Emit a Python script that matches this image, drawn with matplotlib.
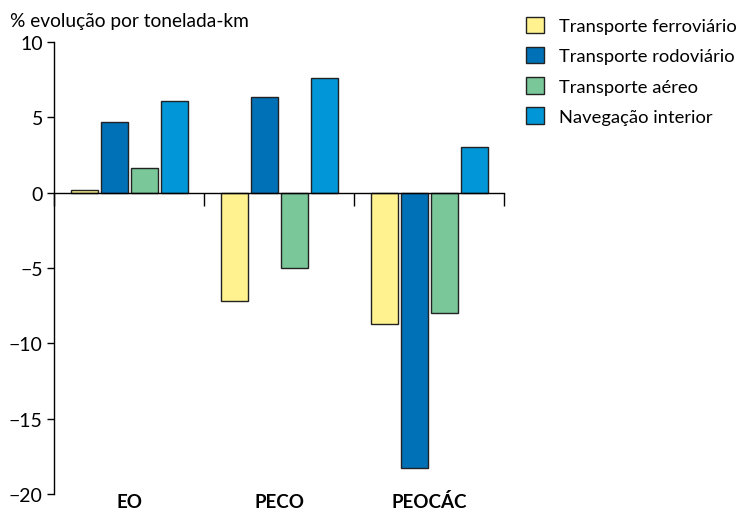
import numpy as np
from matplotlib import pyplot as plt
from matplotlib.patches import Patch
from matplotlib.transforms import blended_transform_factory

plt.rcParams['font.family'] = ['Lato', 'DejaVu Sans']

regioes = ["EO", "PECO", "PEOCÁC"]
modos = ["Transporte ferroviário", "Transporte rodoviário",
         "Transporte aéreo", "Navegação interior"]
ferroviario = [0.15, -7.2, -8.7]
rodoviario = [4.7, 6.35, -18.3]
aereo = [1.65, -5.0, -8.0]
navegacao = [6.1, 7.6, 3.0]
cores = ["#FFF28F", "#0071B6", "#7AC79A", "#0096D7"]

series = [ferroviario, rodoviario, aereo, navegacao]

fig = plt.figure(figsize=(7.43, 5.10), dpi=100)
ax = fig.add_axes([54 / 743, 1 - 495 / 510, 450 / 743, 452 / 510])

x = np.arange(len(regioes))
w = 0.18
for i, (vals, cor) in enumerate(zip(series, cores)):
    ax.bar(x + (i - 1.5) * 0.2, vals, w, color=cor, edgecolor="#222222", linewidth=1.0)

ax.set_xlim(-0.5, 2.5)
ax.set_ylim(-20, 10)
ax.set_yticks([-20, -15, -10, -5, 0, 5, 10])
ax.tick_params(axis='y', direction='out', length=5, width=1, labelsize=14, pad=3)
ax.spines['top'].set_visible(False)
ax.spines['right'].set_visible(False)
ax.spines['bottom'].set_position(('data', 0))
ax.spines['left'].set_linewidth(1.0)
ax.spines['bottom'].set_linewidth(1.0)
ax.set_xticks([-0.5, 0.5, 1.5, 2.5])
ax.tick_params(axis='x', direction='out', length=9, width=1, labelbottom=False)

trans = blended_transform_factory(ax.transData, fig.transFigure)
for xi, nome in zip(x, regioes):
    ax.text(xi, 2 / 510, nome, ha='center', va='baseline', fontsize=13.5,
            fontweight='bold', transform=trans)

fig.text(10 / 743, 1 - 22 / 510, "% evolução por tonelada-km", fontsize=13.8, va='center')

handles = [Patch(facecolor=c, edgecolor="#222222", linewidth=1.0) for c in cores]
fig.legend(handles, modos, loc='upper left', bbox_to_anchor=(509 / 743, 1 - 1 / 510),
           frameon=False, fontsize=13.2, handlelength=1.0, handleheight=1.0,
           handletextpad=0.8, labelspacing=0.7)

fig.savefig("out.png", dpi=100)
